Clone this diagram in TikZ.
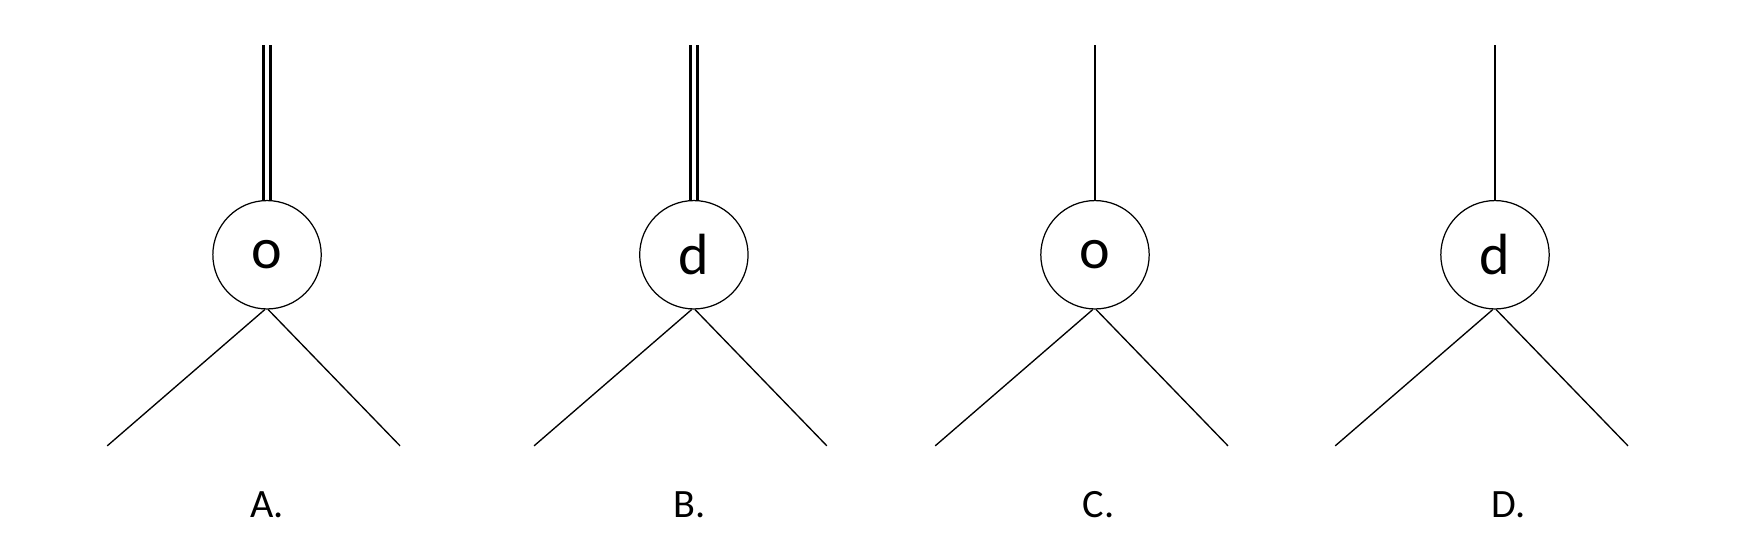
\documentclass[tikz,border=0pt]{standalone}
\usepackage{fontspec}
\setmainfont{Carlito}
\begin{document}
\begin{tikzpicture}[x=1pt,y=-1pt,
  circ/.style={draw,circle,minimum size=97pt,inner sep=0pt,line width=1.1pt,font=\fontsize{52}{56}\selectfont},
  thin/.style={line width=1.2pt},
  thick2/.style={line width=2.8pt},
  lab/.style={font=\fontsize{36}{40}\selectfont}]
\useasboundingbox (0,0) rectangle (1568,499);
\foreach \n/\x/\t/\dbl in {A/239/o/1,B/621/d/1,C/980/o/0,D/1338/d/0}{
  \node[circ] (\n) at (\x,228) {\t};
  \coordinate (\n t) at (\x,40);
  \coordinate (\n l) at (\x-143,399);
  \coordinate (\n r) at (\x+119,399);
  \coordinate (\n b1) at ([xshift=-2pt]\n.south);
  \coordinate (\n b2) at ([xshift=1pt]\n.south);
  \draw[thin] (\n b1) -- (\n l);
  \draw[thin] (\n b2) -- (\n r);
  \ifnum\dbl=1
    \draw[thick2] ([xshift=-3pt]\n.north) -- ([xshift=-3pt]\n t);
    \draw[thick2] ([xshift=3pt]\n.north) -- ([xshift=3pt]\n t);
  \else
    \draw[thin] (\n.north) -- (\n t);
  \fi
}
\node[lab] (la) at (239,452) {A.};
\node[lab] (lb) at (617,452) {B.};
\node[lab] (lc) at (983,452) {C.};
\node[lab] (ld) at (1350,452) {D.};
\end{tikzpicture}
\end{document}
